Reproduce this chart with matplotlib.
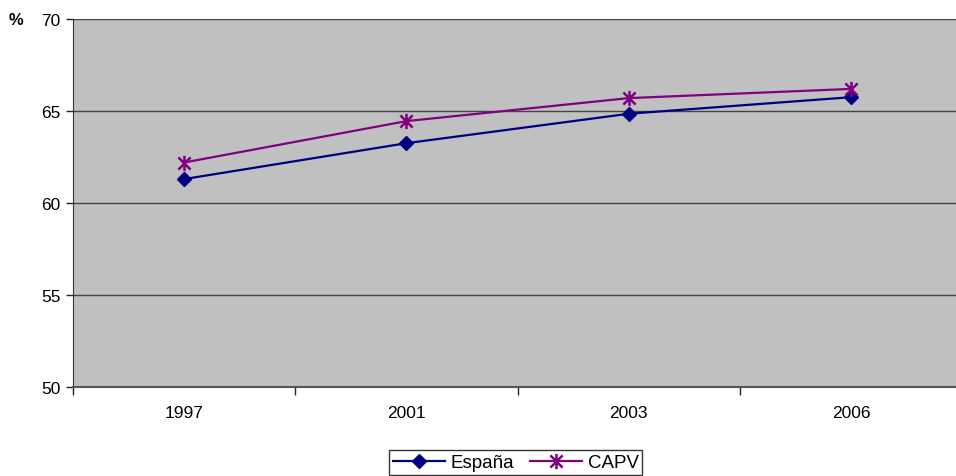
import matplotlib
matplotlib.use("Agg")
import matplotlib.pyplot as plt
from matplotlib.path import Path

plt.rcParams['font.family'] = ['Liberation Sans', 'DejaVu Sans']

years = ['1997', '2001', '2003', '2006']
espana = [61.3, 63.25, 64.85, 65.75]
capv = [62.2, 64.45, 65.7, 66.2]

fig = plt.figure(figsize=(9.56, 4.77), dpi=100)
ax = fig.add_axes([0.0764, 0.1866, 0.930, 0.7715])
ax.set_facecolor('#C0C0C0')

x = list(range(len(years)))

# asterisk marker: vertical + two diagonals
ast = Path([(0, -1), (0, 1), (-0.8, -0.8), (0.8, 0.8), (-0.8, 0.8), (0.8, -0.8)],
           [Path.MOVETO, Path.LINETO, Path.MOVETO, Path.LINETO, Path.MOVETO, Path.LINETO])

ax.plot(x, espana, color='#000080', lw=1.6, marker='D', ms=7.5, mfc='#000080',
        mec='#000080', label='España', zorder=3)
ax.plot(x, capv, color='#800080', lw=1.6, marker=ast, ms=11, mew=1.8, mfc='none',
        mec='#800080', label='CAPV', zorder=4)

ax.set_xlim(-0.5, len(years) - 0.5)
ax.set_ylim(50, 70)
ax.set_yticks([50, 55, 60, 65, 70])
ax.set_xticks(x)
ax.set_xticklabels(years)
ax.set_xticks([i - 0.5 for i in range(len(years) + 1)], minor=True)
ax.tick_params(axis='x', which='major', length=0, pad=13, labelsize=12.5)
ax.tick_params(axis='x', which='minor', length=6, width=1, color='#222222')
ax.tick_params(axis='y', which='major', length=5, width=1, color='#222222', labelsize=12.5, pad=4)

ax.yaxis.grid(True, color='#444444', lw=1)
ax.set_axisbelow(True)
for s in ['top', 'right']:
    ax.spines[s].set_visible(False)
ax.spines['left'].set_color('#333333')
ax.spines['bottom'].set_color('#555555')
ax.spines['bottom'].set_linewidth(1.5)

fig.text(0.009, 0.958, '%', fontsize=12, fontweight='bold', va='center', ha='left')

leg = fig.legend(loc='upper center', bbox_to_anchor=(0.5395, 0.054), ncol=2,
                 fontsize=13.5, frameon=True, fancybox=False, edgecolor='black',
                 handlelength=2.8, handletextpad=0.3, columnspacing=0.8,
                 borderpad=0.2, borderaxespad=0)
leg.get_frame().set_linewidth(1)

fig.savefig('out.png', dpi=100)
